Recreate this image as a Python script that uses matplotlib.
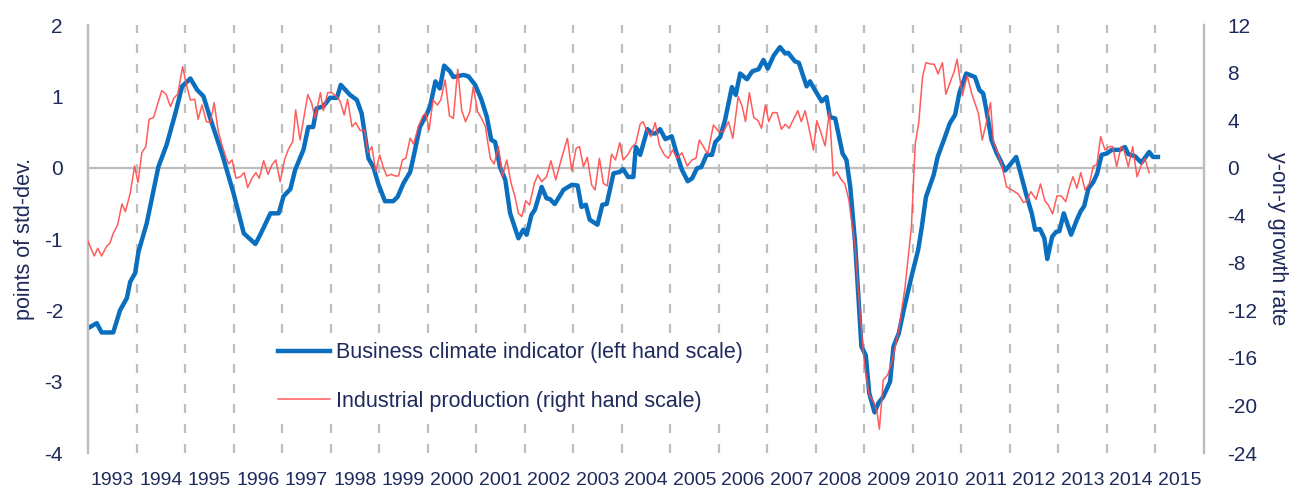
"""Business climate indicator vs industrial production (y-on-y), 1993-2015."""

import matplotlib

matplotlib.use("Agg")
import matplotlib.pyplot as plt

plt.rcParams["font.family"] = ["Liberation Sans", "DejaVu Sans"]

NAVY = "#1F2A5C"
BLUE = "#0A6FBF"
RED = "#FF4A4A"
GREY = "#BEBEBE"

# Business climate indicator (points of std-dev., left scale)
bci_t = [
    1993.00, 1993.18, 1993.28, 1993.52, 1993.66, 1993.80, 1993.87, 1993.97, 1994.04, 1994.21,
    1994.45, 1994.62, 1994.80, 1994.94, 1995.11, 1995.25, 1995.38, 1995.52, 1995.76, 1996.00,
    1996.21, 1996.45, 1996.55, 1996.76, 1996.93, 1997.03, 1997.17, 1997.27, 1997.44, 1997.54,
    1997.64, 1997.71, 1997.85, 1997.99, 1998.13, 1998.21, 1998.40, 1998.54, 1998.64, 1998.78,
    1998.88, 1998.99, 1999.12, 1999.29, 1999.38, 1999.50, 1999.64, 1999.74, 1999.84, 1999.98,
    2000.05, 2000.16, 2000.25, 2000.34, 2000.46, 2000.53, 2000.74, 2000.84, 2000.98, 2001.11,
    2001.22, 2001.31, 2001.39, 2001.49, 2001.60, 2001.70, 2001.87, 2001.97, 2002.04, 2002.14,
    2002.21, 2002.35, 2002.45, 2002.52, 2002.62, 2002.80, 2002.97, 2003.09, 2003.17, 2003.26,
    2003.34, 2003.50, 2003.60, 2003.69, 2003.83, 2003.96, 2004.03, 2004.13, 2004.24, 2004.29,
    2004.38, 2004.53, 2004.62, 2004.70, 2004.79, 2004.90, 2005.03, 2005.14, 2005.24, 2005.36,
    2005.45, 2005.55, 2005.64, 2005.75, 2005.86, 2005.93, 2006.03, 2006.13, 2006.27, 2006.35,
    2006.44, 2006.58, 2006.69, 2006.82, 2006.92, 2007.01, 2007.13, 2007.26, 2007.37, 2007.43,
    2007.57, 2007.65, 2007.81, 2007.88, 2007.98, 2008.12, 2008.22, 2008.29, 2008.40, 2008.55,
    2008.63, 2008.71, 2008.81, 2008.94, 2009.03, 2009.10, 2009.21, 2009.29, 2009.39, 2009.53,
    2009.60, 2009.71, 2009.82, 2009.97, 2010.11, 2010.18, 2010.27, 2010.43, 2010.51, 2010.64,
    2010.76, 2010.87, 2010.96, 2011.10, 2011.28, 2011.37, 2011.45, 2011.52, 2011.62, 2011.73,
    2011.80, 2011.90, 2012.00, 2012.13, 2012.24, 2012.35, 2012.45, 2012.52, 2012.62, 2012.71,
    2012.77, 2012.87, 2012.95, 2013.02, 2013.11, 2013.26, 2013.38, 2013.46, 2013.53, 2013.62,
    2013.72, 2013.80, 2013.89, 2014.00, 2014.10, 2014.27, 2014.37, 2014.44, 2014.58, 2014.71,
    2014.87, 2014.95, 2015.05,
]
bci_v = [
    -2.25, -2.18, -2.31, -2.31, -2.00, -1.83, -1.60, -1.48, -1.18, -0.78,
    0.01, 0.32, 0.76, 1.14, 1.25, 1.09, 1.00, 0.69, 0.20, -0.36,
    -0.92, -1.07, -0.94, -0.64, -0.64, -0.40, -0.30, -0.03, 0.25, 0.57,
    0.57, 0.83, 0.86, 0.98, 0.98, 1.16, 1.02, 0.95, 0.76, 0.13,
    0.01, -0.24, -0.47, -0.47, -0.41, -0.22, -0.06, 0.25, 0.57, 0.75,
    0.86, 1.21, 1.11, 1.43, 1.35, 1.27, 1.30, 1.28, 1.16, 0.95,
    0.71, 0.39, 0.36, 0.01, -0.17, -0.64, -0.99, -0.87, -0.94, -0.66,
    -0.59, -0.27, -0.43, -0.44, -0.51, -0.31, -0.24, -0.25, -0.55, -0.52,
    -0.73, -0.80, -0.52, -0.51, -0.08, -0.06, -0.02, -0.13, -0.13, 0.29,
    0.18, 0.54, 0.48, 0.48, 0.54, 0.40, 0.44, 0.18, -0.03, -0.19,
    -0.15, -0.01, 0.01, 0.18, 0.18, 0.36, 0.43, 0.67, 1.13, 1.02,
    1.32, 1.24, 1.35, 1.38, 1.51, 1.39, 1.57, 1.69, 1.60, 1.61,
    1.49, 1.47, 1.14, 1.21, 1.09, 0.93, 0.99, 0.71, 0.69, 0.20,
    0.11, -0.27, -1.06, -2.51, -2.63, -3.16, -3.43, -3.30, -3.21, -3.00,
    -2.51, -2.32, -1.97, -1.53, -1.15, -0.85, -0.41, -0.10, 0.15, 0.39,
    0.62, 0.74, 1.05, 1.32, 1.27, 1.09, 1.04, 0.79, 0.39, 0.20,
    0.11, -0.04, 0.04, 0.15, -0.13, -0.41, -0.64, -0.87, -0.86, -0.99,
    -1.28, -0.97, -0.90, -0.89, -0.64, -0.94, -0.73, -0.61, -0.54, -0.29,
    -0.20, -0.08, 0.18, 0.20, 0.25, 0.25, 0.29, 0.19, 0.16, 0.07,
    0.22, 0.15, 0.15,
]

# Industrial production, y-on-y growth rate (right scale)
ip_t = [
    1993.00, 1993.13, 1993.20, 1993.28, 1993.38, 1993.45, 1993.52, 1993.61, 1993.70, 1993.77,
    1993.87, 1993.96, 1994.03, 1994.11, 1994.19, 1994.26, 1994.35, 1994.44, 1994.52, 1994.61,
    1994.70, 1994.77, 1994.85, 1994.95, 1995.03, 1995.11, 1995.20, 1995.27, 1995.35, 1995.44,
    1995.52, 1995.60, 1995.68, 1995.76, 1995.85, 1995.90, 1995.97, 1996.05, 1996.14, 1996.22,
    1996.29, 1996.38, 1996.46, 1996.53, 1996.62, 1996.71, 1996.79, 1996.87, 1996.96, 1997.05,
    1997.13, 1997.22, 1997.28, 1997.37, 1997.53, 1997.61, 1997.68, 1997.79, 1997.85, 1997.94,
    1998.02, 1998.13, 1998.20, 1998.28, 1998.35, 1998.44, 1998.52, 1998.61, 1998.70, 1998.77,
    1998.85, 1998.93, 1999.01, 1999.09, 1999.16, 1999.25, 1999.33, 1999.40, 1999.48, 1999.55,
    1999.64, 1999.71, 1999.81, 1999.90, 1999.96, 2000.03, 2000.11, 2000.20, 2000.27, 2000.36,
    2000.45, 2000.53, 2000.62, 2000.70, 2000.78, 2000.87, 2000.94, 2001.03, 2001.11, 2001.19,
    2001.29, 2001.37, 2001.46, 2001.54, 2001.63, 2001.72, 2001.80, 2001.87, 2001.94, 2002.02,
    2002.10, 2002.20, 2002.27, 2002.35, 2002.45, 2002.54, 2002.64, 2002.76, 2002.88, 2002.97,
    2003.06, 2003.13, 2003.21, 2003.29, 2003.38, 2003.45, 2003.54, 2003.62, 2003.70, 2003.79,
    2003.87, 2003.96, 2004.03, 2004.12, 2004.21, 2004.29, 2004.38, 2004.44, 2004.51, 2004.60,
    2004.69, 2004.78, 2004.88, 2004.96, 2005.05, 2005.14, 2005.24, 2005.35, 2005.45, 2005.53,
    2005.60, 2005.69, 2005.77, 2005.89, 2006.00, 2006.10, 2006.20, 2006.29, 2006.40, 2006.48,
    2006.55, 2006.63, 2006.72, 2006.81, 2006.88, 2006.96, 2007.03, 2007.11, 2007.20, 2007.29,
    2007.37, 2007.45, 2007.54, 2007.63, 2007.70, 2007.78, 2007.86, 2007.95, 2008.02, 2008.11,
    2008.19, 2008.28, 2008.36, 2008.43, 2008.52, 2008.60, 2008.68, 2008.81, 2008.91, 2009.00,
    2009.10, 2009.19, 2009.26, 2009.31, 2009.39, 2009.48, 2009.56, 2009.71, 2009.84, 2009.97,
    2010.05, 2010.12, 2010.20, 2010.27, 2010.36, 2010.44, 2010.52, 2010.61, 2010.68, 2010.76,
    2010.85, 2010.91, 2011.02, 2011.12, 2011.21, 2011.35, 2011.43, 2011.52, 2011.60, 2011.66,
    2011.74, 2011.83, 2011.93, 2012.04, 2012.17, 2012.28, 2012.35, 2012.43, 2012.54, 2012.63,
    2012.72, 2012.79, 2012.88, 2012.97, 2013.06, 2013.15, 2013.23, 2013.30, 2013.38, 2013.46,
    2013.55, 2013.64, 2013.72, 2013.79, 2013.87, 2013.96, 2014.05, 2014.12, 2014.20, 2014.29,
    2014.35, 2014.44, 2014.53, 2014.62, 2014.71, 2014.78, 2014.87,
]
ip_v = [
    -6.2, -7.43, -6.78, -7.43, -6.64, -6.36, -5.52, -4.82, -3.05, -3.70,
    -2.15, 0.14, -1.26, 1.26, 1.77, 4.07, 4.21, 5.42, 6.48, 6.17,
    5.13, 5.84, 6.20, 8.49, 6.96, 5.69, 5.75, 4.07, 5.27, 3.87,
    3.79, 5.47, 3.17, 1.91, 0.79, 0.31, 0.65, -0.89, -0.76, -0.42,
    -1.68, -0.89, -0.42, -0.89, 0.59, -0.56, 0.23, 0.65, -1.18, 0.65,
    1.55, 2.19, 4.85, 2.33, 6.15, 5.42, 4.15, 6.31, 4.79, 6.31,
    6.31, 5.97, 5.55, 4.43, 5.75, 3.45, 3.79, 3.11, 3.17, 1.26,
    1.77, -0.34, 1.07, -0.05, -0.70, -0.56, -0.70, -0.70, 0.65, 0.79,
    2.47, 1.99, 3.45, 4.35, 4.58, 3.17, 5.69, 5.27, 5.69, 7.38,
    4.35, 4.15, 8.28, 4.85, 3.87, 4.71, 6.81, 4.71, 4.15, 3.45,
    0.79, 0.31, 1.77, -0.76, 0.65, -1.31, -2.44, -3.84, -4.12, -2.78,
    -3.14, -1.31, -0.61, -1.18, -0.76, 0.59, -1.03, 0.79, 2.47, -0.25,
    1.63, 1.77, 0.08, 0.87, -1.46, -1.88, 0.79, -1.31, -1.54, 1.13,
    0.65, 2.10, 0.65, 1.07, 1.72, 2.05, 3.68, 3.87, 3.17, 2.61,
    3.79, 1.83, 1.07, 0.79, 1.49, 0.79, 1.26, 0.14, 0.65, 0.79,
    2.33, 1.72, 1.15, 3.59, 3.03, 3.03, 3.87, 2.47, 5.97, 5.19,
    3.87, 6.31, 4.24, 3.95, 3.31, 5.27, 3.87, 4.63, 4.63, 3.23,
    3.65, 3.31, 4.07, 4.79, 3.87, 4.79, 3.31, 1.49, 3.95, 2.89,
    1.83, 4.71, -0.70, -0.34, -0.98, -1.37, -2.72, -6.64, -12.25, -16.45,
    -19.12, -19.68, -20.52, -22.0, -17.86, -17.44, -16.45, -13.65, -10.01, -4.96,
    2.05, 3.73, 7.65, 8.83, 8.72, 8.70, 7.88, 8.83, 6.17, 7.10,
    8.07, 9.12, 6.04, 7.75, 6.26, 4.58, 2.33, 3.87, 5.47, 2.19,
    1.35, 0.23, -1.60, -1.88, -2.21, -2.94, -2.78, -2.02, -2.66, -1.37,
    -2.78, -3.14, -3.89, -2.38, -2.38, -2.86, -1.60, -0.76, -1.73, -0.42,
    -1.88, -1.31, 0.14, 0.23, 2.61, 1.49, 1.77, 1.77, 0.08, 1.77,
    1.49, 0.08, 1.77, -0.76, 0.23, 0.79, -0.42,
]

years = list(range(1993, 2016))
left_ticks = [-4, -3, -2, -1, 0, 1, 2]
right_ticks = [-24, -20, -16, -12, -8, -4, 0, 4, 8, 12]

fig = plt.figure(figsize=(12.94, 4.94), dpi=100)
ax = fig.add_axes([88 / 1294, 1 - 453 / 494, (1204 - 88) / 1294, (453 - 25) / 494])
ax2 = ax.twinx()

# year separators and zero line
for y in years[1:]:
    ax.axvline(y, color=GREY, lw=1.6, ls=(0, (4, 5)), zorder=0)
ax.axhline(0, color=GREY, lw=1.6, zorder=0)

ln_bci, = ax.plot(bci_t, bci_v, color=BLUE, lw=3.2, solid_joinstyle="round",
                  label="Business climate indicator (left hand scale)", zorder=3)
ln_ip, = ax2.plot(ip_t, ip_v, color=RED, lw=1.1, alpha=0.9,
                  label="Industrial production (right hand scale)", zorder=3)

ax.set_xlim(1993, 2016)
ax.set_ylim(-4, 2)
ax2.set_ylim(-24, 12)
ax.set_yticks(left_ticks)
ax.set_yticklabels([str(v) for v in left_ticks])
ax2.set_yticks(right_ticks)
ax2.set_yticklabels([str(v) for v in right_ticks])
ax.set_xticks([y + 0.5 for y in years])
ax.set_xticklabels([str(y) for y in years])

ax.tick_params(axis="y", length=0, pad=18, labelsize=15, labelcolor=NAVY)
ax2.tick_params(axis="y", length=0, pad=17, labelsize=15, labelcolor=NAVY)
ax.tick_params(axis="x", length=0, pad=14, labelsize=14, labelcolor=NAVY)

for a in (ax, ax2):
    for side in ("top", "bottom"):
        a.spines[side].set_visible(False)
    for side in ("left", "right"):
        a.spines[side].set_color(GREY)
        a.spines[side].set_linewidth(1.6)

ax.set_ylabel("points of std-dev.", fontsize=15.5, color=NAVY, labelpad=7)
ax2.set_ylabel("y-on-y growth rate", fontsize=15.5, color=NAVY, rotation=270,
               labelpad=22)

leg = ax2.legend(handles=[ln_bci, ln_ip], loc="center left",
                 bbox_to_anchor=(259 / 1294, 1 - 377 / 494),
                 bbox_transform=fig.transFigure, fontsize=15.5, frameon=True,
                 facecolor="white", edgecolor="none", framealpha=1,
                 handlelength=2.42, handletextpad=0.28, labelspacing=1.27,
                 borderpad=0.4, fancybox=False)
for txt in leg.get_texts():
    txt.set_color(NAVY)

fig.savefig("out.png", dpi=100)
